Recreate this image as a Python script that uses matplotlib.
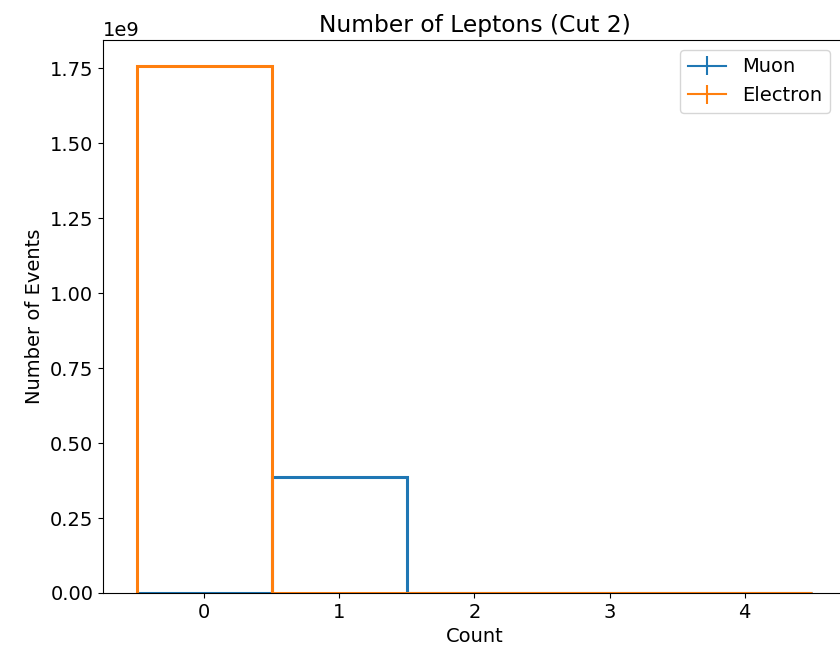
import numpy as np
import matplotlib
matplotlib.use("Agg")
import matplotlib.pyplot as plt

# lepton multiplicity after cut 2
edges = np.array([-0.5, 0.5, 1.5, 2.5, 3.5, 4.5])
muon = np.array([0.0, 0.386e9, 0.0, 0.0, 0.0])
electron = np.array([1.757e9, 0.0, 0.0, 0.0, 0.0])
labels = ["Muon", "Electron"]
colors = ["#1f77b4", "#ff7f0e"]

plt.rcParams["font.size"] = 14

fig = plt.figure(figsize=(8.4, 6.55), dpi=100)
ax = fig.add_axes([0.1226, 0.0947, 0.8845, 0.8443])

handles = []
for vals, lab, c in zip([muon, electron], labels, colors):
    ax.stairs(vals, edges, color=c, linewidth=2.2)
    centers = 0.5 * (edges[1:] + edges[:-1])
    ax.errorbar(centers, vals, yerr=np.sqrt(vals), color=c, ls="none")
    # proxy so the legend shows the errorbar cross
    h = ax.errorbar([np.nan], [np.nan], yerr=[1], color=c, label=lab)
    handles.append(h)

ax.set_xlim(-0.75, 4.75)
ax.set_ylim(0, 1.757e9 * 1.05)
ax.set_xticks(range(5))
ax.set_yticks(np.arange(0, 1.76e9, 0.25e9))
ax.set_xlabel("Count")
ax.set_ylabel("Number of Events")
ax.set_title("Number of Leptons (Cut 2)")
ax.legend(handles=handles, labels=labels, loc="upper right", bbox_to_anchor=(0.9915, 1.0))

fig.savefig("out.png", dpi=100)
